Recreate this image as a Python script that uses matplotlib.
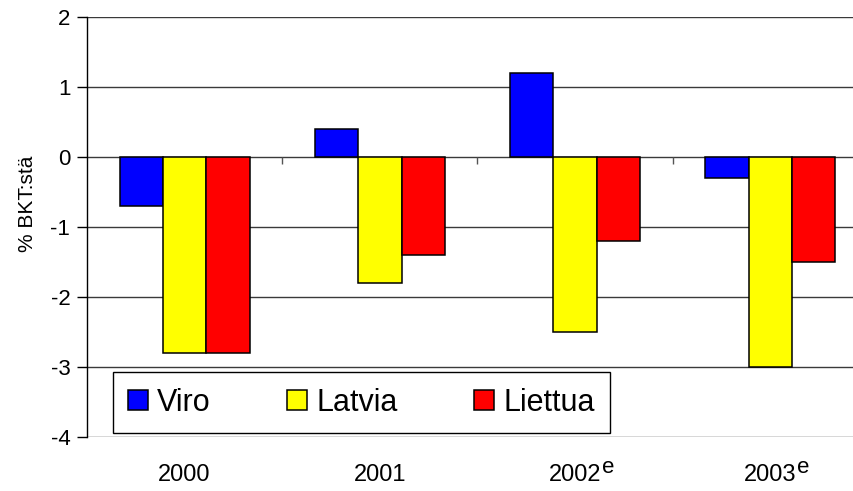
import matplotlib
matplotlib.use("Agg")
import matplotlib.pyplot as plt
import numpy as np

#Chart data
years = ["2000", "2001", "2002", "2003"]
year_marks = ["", "", "e", "e"]  #superscript "e" = estimate
viro = [-0.7, 0.4, 1.2, -0.3]
latvia = [-2.8, -1.8, -2.5, -3.0]
liettua = [-2.8, -1.4, -1.2, -1.5]
series_names = ["Viro", "Latvia", "Liettua"]
series_colors = ["#0000ff", "#ffff00", "#ff0000"]
y_ticks = [-4, -3, -2, -1, 0, 1, 2]

plt.rcParams["font.family"] = ["Liberation Sans", "DejaVu Sans"]

fig = plt.figure(figsize=(8.54, 4.91), dpi=100)
#Axes runs a little past the right edge like in the source image
ax = fig.add_axes([87 / 854, 1 - 437 / 491, 781 / 854, 420 / 491])

x = np.arange(len(years))
bar_w = 0.222
for i, (vals, name, col) in enumerate(zip([viro, latvia, liettua], series_names, series_colors)):
    ax.bar(x + (i - 1) * bar_w, vals, width=bar_w, color=col, edgecolor="black",
           linewidth=1.1, label=name, zorder=3)

ax.set_xlim(-0.5, len(years) - 0.5)
ax.set_ylim(-4, 2)
ax.set_yticks(y_ticks)
ax.set_yticklabels([str(t) for t in y_ticks])
ax.grid(axis="y", color="#3a3a3a", linewidth=1.0)
ax.set_axisbelow(True)

#Category separator ticks hanging off the zero line
ax.vlines(x[:-1] + 0.5, -0.1, 0, color="#555555", linewidth=1.0, zorder=2)

for s in ["top", "right", "bottom"]:
    ax.spines[s].set_visible(False)
ax.spines["left"].set_color("black")
ax.spines["left"].set_linewidth(1.0)

ax.set_xticks(x)
ax.set_xticklabels(years, fontsize=17)
ax.tick_params(axis="x", length=0, pad=32)
for lbl in ax.get_xticklabels():
    lbl.set_va("baseline")
ax.tick_params(axis="y", labelsize=16, length=7, width=1.0, pad=5, color="black")

#Superscript marks next to the year labels
fig.canvas.draw()
for lbl, mark in zip(ax.get_xticklabels(), year_marks):
    if mark:
        ax.annotate(mark, xy=(1.0, 0.88), xycoords=lbl, xytext=(0.5, 0),
                    textcoords="offset points", ha="left", va="center",
                    fontsize=16, annotation_clip=False)

ax.set_ylabel("% BKT:stä", fontsize=15)
ax.yaxis.set_label_coords(-0.064, 0.555)

leg = ax.legend(loc="lower left", bbox_to_anchor=(0.0333, 0.0095), borderaxespad=0,
                ncol=3, fontsize=22, frameon=True, fancybox=False, framealpha=1,
                edgecolor="black", handlelength=0.65, handleheight=0.65,
                handletextpad=0.3, columnspacing=2.5, borderpad=0.5)
leg.get_frame().set_linewidth(1.0)
leg.set_zorder(5)

fig.savefig("out.png", dpi=100)
